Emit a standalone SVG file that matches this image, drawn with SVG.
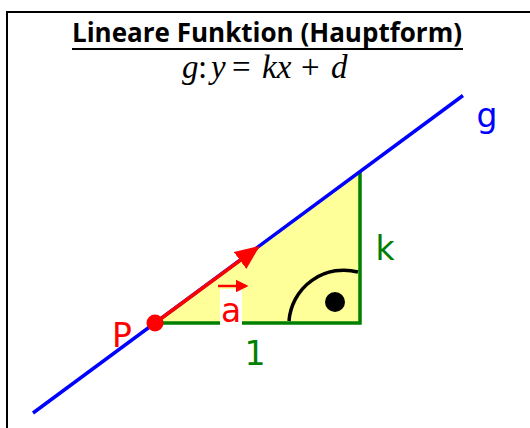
<svg xmlns="http://www.w3.org/2000/svg" width="530" height="428" viewBox="0 0 530 428">
  <style>
    .lbl { font-family: "DejaVu Sans", Verdana, sans-serif; font-size: 33px; }
    .math { font-family: "Liberation Serif", "DejaVu Serif", serif; font-size: 33px; fill: #000; }
    .it { font-style: italic; }
  </style>
  <defs>
    <marker id="arrRed" markerWidth="7" markerHeight="6" refX="6" refY="3" orient="auto" markerUnits="strokeWidth">
      <path d="M0,0 L7,3 L0,6 Z" fill="#ff0000"/>
    </marker>
    <marker id="arrSmall" markerWidth="5" markerHeight="5" refX="4" refY="2.5" orient="auto" markerUnits="strokeWidth">
      <path d="M0,0 L5,2.5 L0,5 Z" fill="#ff0000"/>
    </marker>
  </defs>
  <rect width="530" height="428" fill="#ffffff"/>
  <rect id="frame" x="7" y="12" width="540" height="440" fill="none" stroke="#000" stroke-width="2"/>

  <g id="title">
    <text x="267" y="42" text-anchor="middle" font-family="'Open Sans', 'Liberation Sans', sans-serif" font-weight="bold" font-size="26" textLength="390" lengthAdjust="spacingAndGlyphs" fill="#000">Lineare Funktion (Hauptform)</text>
    <line x1="72" y1="49" x2="463" y2="49" stroke="#000" stroke-width="2"/>
  </g>
  <g id="formula">
    <text y="78" class="math"><tspan x="182" class="it">g</tspan><tspan x="198">:</tspan><tspan x="211" class="it">y</tspan><tspan x="232">=</tspan><tspan x="262" class="it">kx</tspan><tspan x="301">+</tspan><tspan x="331" class="it">d</tspan></text>
  </g>

  <g id="triangle">
    <polygon points="155,323 360,323 360,172" fill="#ffff99"/>
    <polyline points="158,323 360,323 360,172" fill="none" stroke="#008000" stroke-width="3.5"/>
  </g>

  <g id="rightangle">
    <path d="M289,321 A 55 55 0 0 1 358 272" fill="none" stroke="#000" stroke-width="3.5"/>
    <circle cx="335" cy="302" r="10" fill="#000"/>
  </g>

  <g id="connectors">
    <line id="line-g" x1="33" y1="413" x2="463" y2="95.5" stroke="#0000ff" stroke-width="3.5"/>
    <line id="vector-a" x1="155" y1="323" x2="257" y2="248" stroke="#ff0000" stroke-width="3.5" marker-end="url(#arrRed)"/>
  </g>

  <g id="point-P">
    <circle cx="155" cy="323" r="8.5" fill="#ff0000"/>
    <text x="112" y="347" class="lbl" fill="#ff0000">P</text>
  </g>

  <g id="label-a">
    <rect x="220" y="289" width="22" height="37" fill="#ffffff"/>
    <line x1="218" y1="286" x2="246" y2="286" stroke="#ff0000" stroke-width="2.5" marker-end="url(#arrSmall)"/>
    <text x="231" y="322" text-anchor="middle" class="lbl" fill="#ff0000">a</text>
  </g>

  <g id="label-1">
    <text x="255" y="365" text-anchor="middle" class="lbl" fill="#008000">1</text>
  </g>
  <g id="label-k">
    <text x="385" y="260" text-anchor="middle" class="lbl" fill="#008000">k</text>
  </g>
  <g id="label-g">
    <text x="487" y="127" text-anchor="middle" class="lbl" fill="#0000ff">g</text>
  </g>
</svg>
